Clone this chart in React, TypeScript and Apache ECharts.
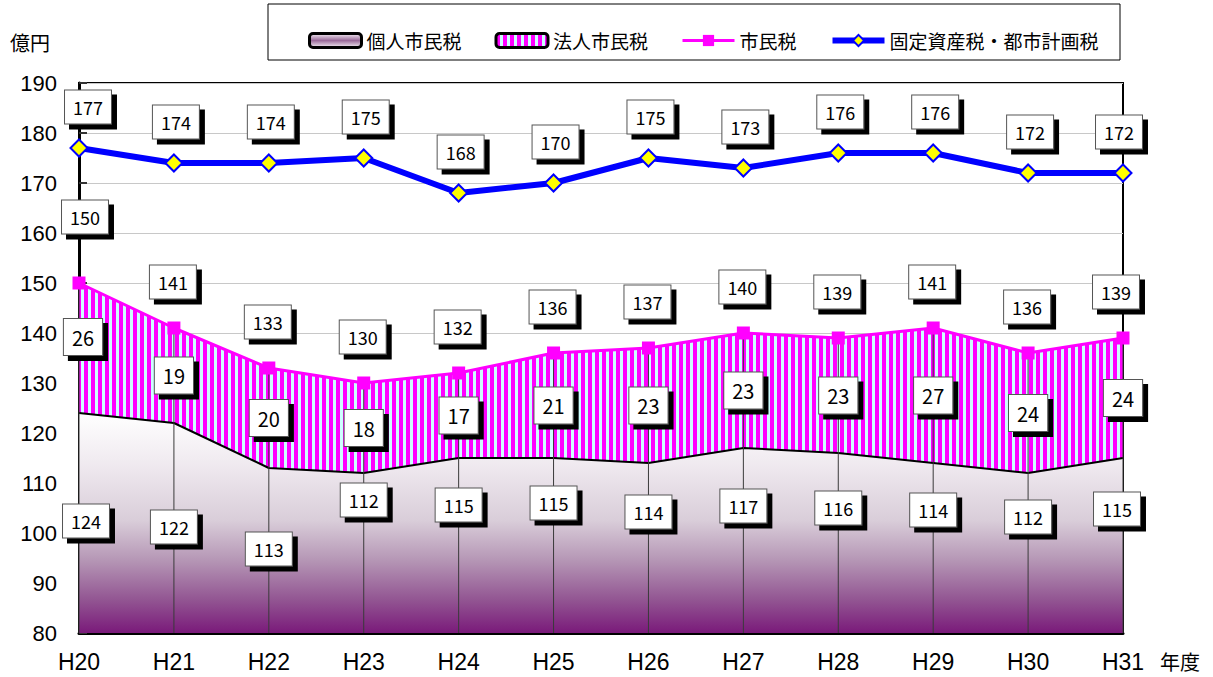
import React, { useEffect, useRef } from 'react';
import * as echarts from 'echarts';

const CATEGORIES = ['H20', 'H21', 'H22', 'H23', 'H24', 'H25', 'H26', 'H27', 'H28', 'H29', 'H30', 'H31'];
const KOJIN = [124, 122, 113, 112, 115, 115, 114, 117, 116, 114, 112, 115];
const HOJIN = [26, 19, 20, 18, 17, 21, 23, 23, 23, 27, 24, 24];
const SHIMIN = [150, 141, 133, 130, 132, 136, 137, 140, 139, 141, 136, 139];
const KOTEI = [177, 174, 174, 175, 168, 170, 175, 173, 176, 176, 172, 172];
const SERIES_NAMES = ['個人市民税', '法人市民税', '市民税', '固定資産税・都市計画税'];
const Y_MIN = 80;
const Y_MAX = 190;
const Y_INTERVAL = 10;
// label anchor heights (value units) for the 個人市民税 boxes, as placed in the original
const KOJIN_LABEL_AT = [102.4, 101.2, 96.8, 106.6, 105.6, 106, 104.2, 105.4, 105, 104.6, 103.2, 104.8];

const JP = '"Noto Sans CJK JP", "Noto Sans", sans-serif';
const LAT = '"Liberation Sans", Arial, sans-serif';

function makeStripe(): string {
  const c = document.createElement('canvas');
  c.width = 7;
  c.height = 7;
  const ctx = c.getContext('2d')!;
  ctx.fillStyle = '#ccffff';
  ctx.fillRect(0, 0, 7, 7);
  ctx.fillStyle = '#ff00ff';
  ctx.fillRect(0, 0, 4, 7);
  return c.toDataURL();
}

type LabelItem = { x: number; y: number; text: string; dx: number; dy: number };

function labelSeries(name: string, items: LabelItem[], fontSize: number, pad: number[]) {
  return {
    name,
    type: 'scatter',
    symbolSize: 0,
    z: 10,
    silent: true,
    itemStyle: { opacity: 1 },
    data: items.map((it) => ({
      value: [it.x, it.y],
      txt: it.text,
      label: { offset: [it.dx, it.dy] },
    })),
    label: {
      show: true,
      position: 'inside',
      fontSize,
      fontFamily: JP,
      lineHeight: fontSize + 2,
      padding: pad,
      color: '#000',
      backgroundColor: '#fff',
      borderColor: '#555',
      borderWidth: 1,
      shadowColor: '#000',
      shadowBlur: 0,
      shadowOffsetX: 5,
      shadowOffsetY: 5,
      formatter: (p: any) => p.data.txt,
    },
  };
}

const edgeDx = (i: number, n: number) => (i === 0 ? 7 : i === n - 1 ? -6 : 0);

export default function App() {
  const ref = useRef<HTMLDivElement>(null);
  useEffect(() => {
    if (!ref.current) return;
    const chart = echarts.init(ref.current, null, { renderer: 'svg' });
    const stripeUrl = makeStripe();
    const stripe: any = { image: stripeUrl, repeat: 'repeat', imageWidth: 7, imageHeight: 7 };
    const n = CATEGORIES.length;

    const kojinGrad = new echarts.graphic.LinearGradient(0, 0, 0, 1, [
      { offset: 0, color: '#ffffff' },
      { offset: 0.24, color: '#efe9ef' },
      { offset: 0.49, color: '#d9cdd9' },
      { offset: 0.67, color: '#b596b5' },
      { offset: 0.85, color: '#925592' },
      { offset: 1, color: '#7a1a7a' },
    ]);
    const legendGrad = new echarts.graphic.LinearGradient(0, 0, 0, 1, [
      { offset: 0, color: '#f6f0f6' },
      { offset: 0.5, color: '#9a6a9a' },
      { offset: 1, color: '#f6f0f6' },
    ]);

    const koteiLabels = labelSeries(
      'koteiLabels',
      KOTEI.map((v, i) => ({ x: i, y: v, text: String(v), dx: edgeDx(i, n) + 2, dy: -41 })),
      18,
      [7, 8, 6, 8]
    );
    const shiminLabels = labelSeries(
      'shiminLabels',
      SHIMIN.map((v, i) => ({ x: i, y: v, text: String(v), dx: edgeDx(i, n) - 1, dy: i === 0 ? -66 : -46 })),
      18,
      [7, 8, 6, 8]
    );
    const hojinLabels = labelSeries(
      'hojinLabels',
      HOJIN.map((v, i) => ({ x: i, y: KOJIN[i] + v / 2, text: String(v), dx: i === 0 ? 4 : 0, dy: i === 0 ? -11 : 0 })),
      20,
      [7, 8, 7, 8]
    );
    const kojinLabels = labelSeries(
      'kojinLabels',
      KOJIN.map((v, i) => ({ x: i, y: KOJIN_LABEL_AT[i], text: String(v), dx: edgeDx(i, n), dy: 0 })),
      18,
      [7, 8, 6, 8]
    );

    const option: any = {
      animation: false,
      backgroundColor: '#fff',
      grid: {
        left: 79,
        right: 90,
        top: 83,
        bottom: 44,
        show: true,
        borderColor: '#000',
        borderWidth: 2,
        backgroundColor: 'transparent',
      },
      legend: {
        left: 303,
        top: 26,
        itemWidth: 52,
        itemHeight: 14,
        itemGap: 33,
        textStyle: { fontSize: 19, fontFamily: JP, color: '#000' },
        data: [
          {
            name: SERIES_NAMES[0],
            icon: 'roundRect',
            itemStyle: { color: legendGrad, borderColor: '#000', borderWidth: 3 },
          },
          {
            name: SERIES_NAMES[1],
            icon: 'roundRect',
            itemStyle: { color: stripe, borderColor: '#000', borderWidth: 3 },
          },
          { name: SERIES_NAMES[2], lineStyle: { width: 3, color: '#ff00ff' } },
          { name: SERIES_NAMES[3], lineStyle: { width: 6, color: '#0000ff' } },
        ],
      },
      graphic: [
        {
          type: 'rect',
          z: -1,
          shape: { x: 268, y: 4, width: 852, height: 56 },
          style: { fill: '#fff', stroke: '#000', lineWidth: 1 },
        },
        {
          type: 'text',
          x: 10,
          y: 32,
          style: { text: '億円', fontSize: 20, fontFamily: JP, fill: '#000' },
        },
        {
          type: 'text',
          x: 1160,
          y: 651,
          style: { text: '年度', fontSize: 20, fontFamily: JP, fill: '#000' },
        },
      ],
      xAxis: {
        type: 'category',
        data: CATEGORIES,
        boundaryGap: false,
        axisLine: { show: true, lineStyle: { color: '#000', width: 3 } },
        axisTick: { show: false },
        axisLabel: { fontSize: 23, fontFamily: LAT, color: '#000', margin: 17 },
        splitLine: { show: false },
      },
      yAxis: {
        type: 'value',
        min: Y_MIN,
        max: Y_MAX,
        interval: Y_INTERVAL,
        axisLine: { show: true, lineStyle: { color: '#000', width: 3 } },
        axisTick: { show: true, inside: true, length: 8, lineStyle: { color: '#333', width: 2 } },
        axisLabel: { fontSize: 22, fontFamily: LAT, color: '#000', margin: 22 },
        splitLine: { show: true, lineStyle: { color: '#c8c8c8', width: 1 } },
      },
      series: [
        {
          name: SERIES_NAMES[0],
          type: 'line',
          stack: 'tax',
          data: KOJIN,
          symbol: 'none',
          z: 1,
          lineStyle: { color: '#000', width: 2 },
          itemStyle: { color: '#9a6a9a' },
          areaStyle: { color: kojinGrad, opacity: 1, origin: 'start' },
        },
        {
          name: SERIES_NAMES[1],
          type: 'line',
          stack: 'tax',
          data: HOJIN,
          symbol: 'none',
          z: 1,
          lineStyle: { color: '#ff00ff', width: 0 },
          itemStyle: { color: '#ff00ff' },
          areaStyle: { color: stripe, opacity: 1 },
        },
        {
          name: 'drop',
          type: 'bar',
          data: SHIMIN,
          barWidth: 1,
          z: 2,
          itemStyle: { color: '#3a3a3a' },
          silent: true,
        },
        {
          name: SERIES_NAMES[2],
          type: 'line',
          data: SHIMIN,
          symbol: 'rect',
          symbolSize: 13,
          z: 3,
          lineStyle: { color: '#ff00ff', width: 3 },
          itemStyle: { color: '#ff00ff' },
        },
        {
          name: SERIES_NAMES[3],
          type: 'line',
          data: KOTEI,
          symbol: 'diamond',
          symbolSize: 17,
          z: 3,
          lineStyle: { color: '#0000ff', width: 6 },
          itemStyle: { color: '#ffff00', borderColor: '#0000ff', borderWidth: 2 },
        },
        koteiLabels,
        shiminLabels,
        hojinLabels,
        kojinLabels,
      ],
    };
    chart.setOption(option);
    return () => chart.dispose();
  }, []);
  return <div ref={ref} style={{ width: 1213, height: 677, position: 'absolute', left: 0, top: 0 }} />;
}
